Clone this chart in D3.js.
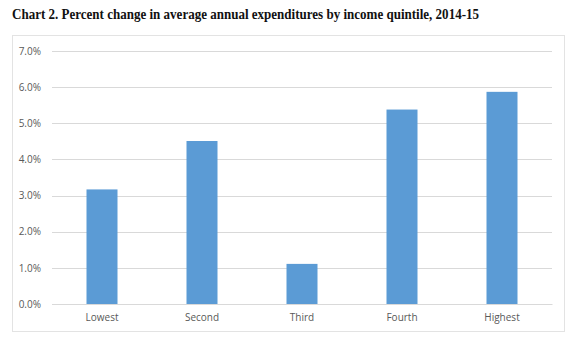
<!DOCTYPE html>
<html>
<head>
<meta charset="utf-8">
<script src="https://cdn.jsdelivr.net/npm/d3@7"></script>
<style>
  body { margin: 0; background: #fff; }
  svg { display: block; }
</style>
</head>
<body>
<div id="chart"></div>
<script>
const title = 'Chart 2. Percent change in average annual expenditures by income quintile, 2014-15';
const categories = ['Lowest', 'Second', 'Third', 'Fourth', 'Highest'];
const values = [3.17, 4.51, 1.11, 5.38, 5.87];
const ticks = [0, 1, 2, 3, 4, 5, 6, 7];

const width = 580, height = 339;
const margin = {top: 51, right: 28, bottom: 35, left: 52};
const labelFont = '"Open Sans", "Liberation Sans", sans-serif';

const svg = d3.select('#chart')
    .append('svg')
    .attr('width', width)
    .attr('height', height);

// titre
svg.append('text')
    .attr('x', 12)
    .attr('y', 19)
    .attr('font-family', '"Liberation Serif", "Times New Roman", serif')
    .attr('font-weight', 'bold')
    .attr('font-size', 14.5)
    .attr('fill', '#111')
    .attr('textLength', 467)
    .attr('lengthAdjust', 'spacingAndGlyphs')
    .text(title);

// cadre
svg.append('rect')
    .attr('x', 12.5)
    .attr('y', 35.5)
    .attr('width', 552)
    .attr('height', 296)
    .attr('fill', 'none')
    .attr('stroke', '#e3e3e3');

const x = d3.scaleBand()
    .domain(categories)
    .range([margin.left, width - margin.right])
    .paddingInner(0.69)
    .paddingOuter(0.345);

const y = d3.scaleLinear()
    .domain([0, 7])
    .range([height - margin.bottom, margin.top]);

const g = svg.append('g');

// grille
g.selectAll('.grid')
    .data(ticks)
    .enter()
    .append('line')
    .attr('x1', margin.left)
    .attr('x2', width - margin.right)
    .attr('y1', d => Math.round(y(d)) + 0.5)
    .attr('y2', d => Math.round(y(d)) + 0.5)
    .attr('stroke', '#d9d9d9')
    .attr('stroke-width', 1.2);

// barres
g.selectAll('.bar')
    .data(values)
    .enter()
    .append('rect')
    .attr('x', (d, i) => x(categories[i]))
    .attr('y', d => y(d))
    .attr('width', x.bandwidth())
    .attr('height', d => y(0) - y(d))
    .attr('fill', '#5b9bd5');

// axe y
const yAxis = d3.axisLeft(y)
    .tickValues(ticks)
    .tickFormat(d => d.toFixed(1) + '%')
    .tickSize(0)
    .tickPadding(11);

svg.append('g')
    .attr('transform', `translate(${margin.left},0)`)
    .call(yAxis)
    .call(a => a.select('.domain').remove())
    .selectAll('text')
    .attr('font-family', labelFont)
    .attr('font-size', 10)
    .attr('fill', '#595959');

// axe x
const xAxis = d3.axisBottom(x)
    .tickSize(0)
    .tickPadding(10);

svg.append('g')
    .attr('transform', `translate(0,${y(0)})`)
    .call(xAxis)
    .call(a => a.select('.domain').attr('stroke', '#d9d9d9').attr('stroke-width', 1.2))
    .selectAll('text')
    .attr('font-family', labelFont)
    .attr('font-size', 10)
    .attr('fill', '#595959');
</script>
</body>
</html>
